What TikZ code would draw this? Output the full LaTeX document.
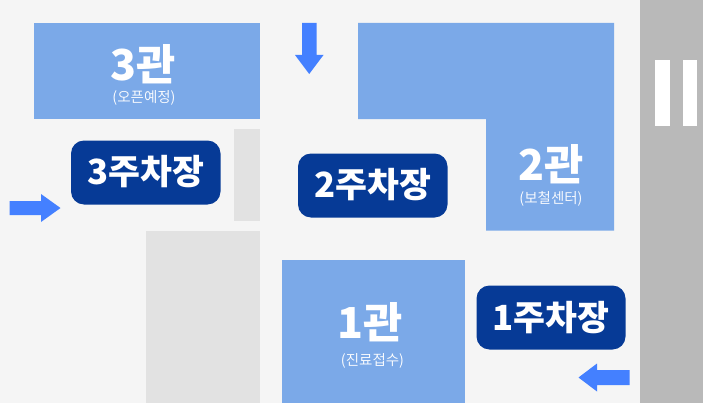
\documentclass[tikz,border=0pt]{standalone}
\usepackage{fontspec}
\setmainfont{Noto Sans CJK KR}[BoldFont={Noto Sans CJK KR Black}]
\newfontfamily\kolight{Noto Sans CJK KR DemiLight}
\definecolor{bgc}{HTML}{F5F5F5}
\definecolor{bldg}{HTML}{7BA9E8}
\definecolor{navy}{HTML}{063A96}
\definecolor{arrowc}{HTML}{4480FF}
\definecolor{lotgray}{HTML}{E2E2E2}
\definecolor{roadc}{HTML}{B9B9B9}
\tikzset{
  bldgfill/.style={fill=bldg,draw=none},
  lot/.style={fill=lotgray,draw=none},
  dir/.style={fill=arrowc,draw=none},
  pill/.style={fill=navy,draw=none,rounded corners=9.75pt},
  bigt/.style={text=white,font=\bfseries\fontsize{32}{32}\selectfont,inner sep=0pt},
  pillt/.style={text=white,font=\bfseries\fontsize{26}{26}\selectfont,inner sep=0pt},
  subt/.style={text=white,font=\kolight\fontsize{10.9}{10.9}\selectfont,inner sep=0pt},
}
\begin{document}
\begin{tikzpicture}[x=0.75pt,y=-0.75pt]
\useasboundingbox (0,0) rectangle (703,403);
\fill[bgc] (0,0) rectangle (703,403);
% road
\fill[roadc] (640,0) rectangle (703,403);
\fill[white] (654.5,60) rectangle (669.5,126);
\fill[white] (682.5,60) rectangle (697,126);
% lots
\fill[lot] (234,129) rectangle (260,221);
\fill[lot] (146,231) rectangle (260,403);
% buildings
\fill[bldgfill] (34,23) rectangle (260,119);
\fill[bldgfill] (358,23) -- (614,23) -- (614,230.5) -- (486,230.5) -- (486,119) -- (358,119) -- cycle;
\fill[bldgfill] (282,260) rectangle (465,403);
% pills
\fill[pill] (71,140.5) rectangle (220.5,204.5);
\fill[pill] (298,153.5) rectangle (447.5,217.5);
\fill[pill] (476.5,285.5) rectangle (625.5,349.5);
% arrows
\fill[dir] (302,23) -- (316.5,23) -- (316.5,55) -- (323.5,55) -- (309.2,74) -- (295,55) -- (302,55) -- cycle;
\fill[dir] (9.5,201) -- (41,201) -- (41,194) -- (60.5,208) -- (41,222) -- (41,215) -- (9.5,215) -- cycle;
\fill[dir] (629.5,370) -- (597,370) -- (597,363.5) -- (578.5,377.5) -- (597,391.5) -- (597,385) -- (629.5,385) -- cycle;
% labels
\node[bigt] (b3) at (143.5,64) {3관};
\node[subt] (s3) at (144,97.5) {(오픈예정)};
\node[bigt] (b2) at (551,164) {2관};
\node[subt] (s2) at (551,198.5) {(보철센터)};
\node[bigt] (b1) at (370,322) {1관};
\node[subt] (s1) at (372.5,360.5) {(진료접수)};
\node[pillt] (p3) at (145.5,172) {3주차장};
\node[pillt] (p2) at (372.5,185) {2주차장};
\node[pillt] (p1) at (550.5,317.5) {1주차장};
\end{tikzpicture}
\end{document}
